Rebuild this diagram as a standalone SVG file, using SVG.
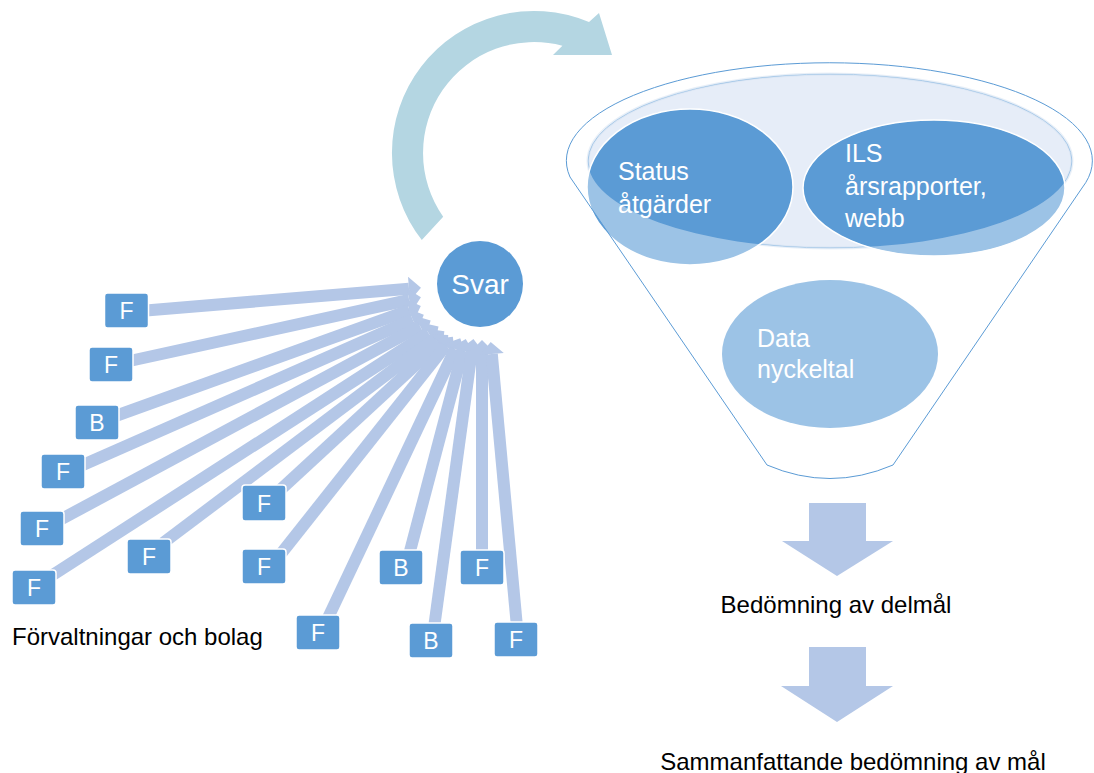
<svg xmlns="http://www.w3.org/2000/svg" width="1094" height="773" viewBox="0 0 1094 773">
<style>
.box{fill:#5b9bd5;stroke:#ffffff;stroke-width:1.5}
.bt{font-family:"Liberation Sans",Arial,sans-serif;font-size:23px;fill:#ffffff;text-anchor:middle}
.conn{stroke:#b4c7e7;stroke-width:12;fill:none;marker-end:url(#ah)}
.wt{font-family:"Liberation Sans",Arial,sans-serif;font-size:25px;fill:#ffffff}
.lbl{font-family:"Liberation Sans",Arial,sans-serif;font-size:24px;fill:#000000}
.ell{fill:#5b9bd5;stroke:#ffffff;stroke-width:1.5}
.down{fill:#b4c7e7}
</style>
<defs>
<marker id="ah" markerUnits="userSpaceOnUse" markerWidth="24" markerHeight="24" refX="0" refY="11" orient="auto" viewBox="0 0 12 22">
<path d="M0,0 L11,11 L0,22 Z" fill="#b4c7e7"/>
</marker>
</defs>

<g id="cycle-arrow">
<path d="M421.8,240 A142 142 0 0 1 589,22 L599,13 L612,55 L553,55 L562.4,45.7 A111 111 0 0 0 443.2,216.8 Z" fill="#b4d6e2"/>
</g>

<g id="connectors">
<line class="conn" x1="140" y1="311" x2="409" y2="288.7"/>
<line class="conn" x1="125" y1="362" x2="409.2" y2="299.9"/>
<line class="conn" x1="110" y1="418" x2="409.5" y2="310.1"/>
<line class="conn" x1="76" y1="468" x2="412.8" y2="319.6"/>
<line class="conn" x1="56" y1="522" x2="420.1" y2="326.3"/>
<line class="conn" x1="48" y1="578" x2="428.4" y2="332.9"/>
<line class="conn" x1="163" y1="543" x2="434.8" y2="338.4"/>
<line class="conn" x1="278" y1="492" x2="439.4" y2="343.1"/>
<line class="conn" x1="280" y1="555" x2="445.4" y2="346.1"/>
<line class="conn" x1="327" y1="620" x2="455.1" y2="349.1"/>
<line class="conn" x1="409" y1="555" x2="462.7" y2="350.7"/>
<line class="conn" x1="434" y1="628" x2="471.8" y2="350.9"/>
<line class="conn" x1="482" y1="555" x2="482" y2="352"/>
<line class="conn" x1="517" y1="627" x2="491.8" y2="354"/>
</g>

<g id="box1"><rect class="box" x="104.5" y="293" width="44" height="35" rx="3"/><text class="bt" x="126.5" y="319">F</text></g>
<g id="box2"><rect class="box" x="89" y="347" width="44" height="35" rx="3"/><text class="bt" x="111" y="373">F</text></g>
<g id="box3"><rect class="box" x="75" y="405" width="44" height="35" rx="3"/><text class="bt" x="97" y="431">B</text></g>
<g id="box4"><rect class="box" x="41" y="454" width="44" height="35" rx="3"/><text class="bt" x="63" y="480">F</text></g>
<g id="box5"><rect class="box" x="20" y="511" width="44" height="35" rx="3"/><text class="bt" x="42" y="537">F</text></g>
<g id="box6"><rect class="box" x="12" y="570" width="44" height="35" rx="3"/><text class="bt" x="34" y="596">F</text></g>
<g id="box7"><rect class="box" x="127" y="539" width="44" height="35" rx="3"/><text class="bt" x="149" y="565">F</text></g>
<g id="box8"><rect class="box" x="242" y="485" width="44" height="36" rx="3"/><text class="bt" x="264" y="512">F</text></g>
<g id="box9"><rect class="box" x="242" y="549" width="44" height="35" rx="3"/><text class="bt" x="264" y="575">F</text></g>
<g id="box10"><rect class="box" x="296" y="615" width="44" height="35" rx="3"/><text class="bt" x="318" y="641">F</text></g>
<g id="box11"><rect class="box" x="379" y="550" width="44" height="35" rx="3"/><text class="bt" x="401" y="576">B</text></g>
<g id="box12"><rect class="box" x="460" y="550" width="44" height="35" rx="3"/><text class="bt" x="482" y="576">F</text></g>
<g id="box13"><rect class="box" x="409" y="623" width="44" height="35" rx="3"/><text class="bt" x="431" y="649">B</text></g>
<g id="box14"><rect class="box" x="494" y="622" width="44" height="35" rx="3"/><text class="bt" x="516" y="648">F</text></g>

<g id="label-forvaltningar"><text class="lbl" x="12" y="645">Förvaltningar och bolag</text></g>

<g id="svar">
<circle cx="480" cy="284" r="43" fill="#5b9bd5"/>
<text x="480" y="294" font-family="'Liberation Sans',Arial,sans-serif" font-size="28" fill="#ffffff" text-anchor="middle">Svar</text>
</g>

<g id="funnel">
<path d="M570,177 A263 98 0 1 1 1082,188 L893,465 Q830,492 767,465 Z" fill="#ffffff"/>
<ellipse cx="830" cy="161" rx="242" ry="87" fill="#e6edf8" stroke="#dbe6f4" stroke-width="3"/>
<ellipse cx="830" cy="161" rx="242" ry="87" fill="none" stroke="#9dc3e6" stroke-width="1"/>
<ellipse class="ell" cx="690" cy="187" rx="103" ry="78"/>
<ellipse class="ell" cx="934" cy="188" rx="131" ry="68"/>
<ellipse cx="830" cy="354" rx="108" ry="74" fill="#5b9bd5"/>
<path d="M570,177 A263 98 0 1 1 1082,188 L893,465 Q830,492 767,465 Z M588,161 A242 87 0 1 0 1072,161 A242 87 0 1 0 588,161 Z" fill="#ffffff" fill-opacity="0.4" fill-rule="evenodd"/>
<path d="M570,177 A263 98 0 1 1 1082,188 L893,465 Q830,492 767,465 Z" fill="none" stroke="#5b9bd5" stroke-width="1"/>
</g>

<g id="status"><text class="wt" x="618" y="180">Status</text><text class="wt" x="618" y="213">åtgärder</text></g>
<g id="ils"><text class="wt" x="845" y="162">ILS</text><text class="wt" x="845" y="195">årsrapporter,</text><text class="wt" x="845" y="227">webb</text></g>
<g id="data"><text class="wt" x="757" y="347">Data</text><text class="wt" x="757" y="378">nyckeltal</text></g>

<g id="down1"><path class="down" d="M809,503 L866,503 L866,541 L893,541 L837,576 L782,541 L809,541 Z"/></g>
<g id="label-delmal"><text class="lbl" x="836" y="613" text-anchor="middle">Bedömning av delmål</text></g>
<g id="down2"><path class="down" d="M809,647 L866,647 L866,686 L893,686 L837,722 L781,686 L809,686 Z"/></g>
<g id="label-mal"><text class="lbl" x="853" y="770" text-anchor="middle">Sammanfattande bedömning av mål</text></g>
</svg>
